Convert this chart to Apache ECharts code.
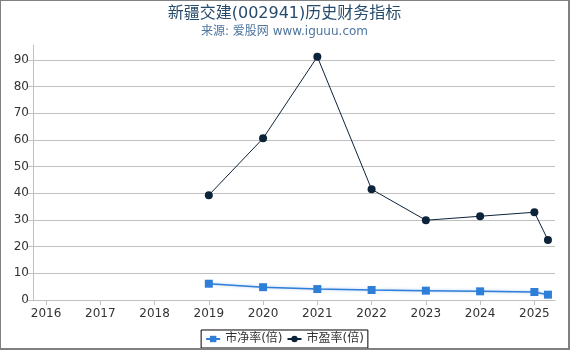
<!DOCTYPE html>
<html>
<head>
<meta charset="utf-8">
<script src="https://cdn.jsdelivr.net/npm/echarts@6/dist/echarts.min.js"></script>
<style>
  html, body { margin: 0; padding: 0; background: #fff; }
  #chart {
    width: 567px;
    height: 347px;
    border-left: 1px solid #808080;
    border-top: 1px solid #808080;
    border-right: 2px solid #808080;
    border-bottom: 2px solid #808080;
  }
</style>
</head>
<body>
<div id="chart"></div>
<script>
// 年份（最后一点为2025年一季度）
var years = [2019, 2020, 2021, 2022, 2023, 2024, 2025, 2025.25];
// 市净率
var pbValues = [6.1, 4.8, 4.1, 3.75, 3.5, 3.25, 3.0, 2.0];
// 市盈率
var peValues = [39.3, 60.6, 91.2, 41.5, 29.9, 31.4, 32.9, 22.5];
var xTicks = [2016, 2017, 2018, 2019, 2020, 2021, 2022, 2023, 2024, 2025];
var yTicks = [0, 10, 20, 30, 40, 50, 60, 70, 80, 90];

var font = 'DejaVu Sans, Noto Sans CJK SC, sans-serif';

function pairs(vals) {
  return years.map(function (y, i) { return [y, vals[i]]; });
}

var chart = echarts.init(document.getElementById('chart'));
chart.setOption({
  animation: false,
  title: {
    text: '新疆交建(002941)历史财务指标',
    subtext: '来源: 爱股网 www.iguuu.com',
    left: 'center',
    top: 0,
    itemGap: 4,
    textStyle: { color: '#274b6d', fontSize: 16, fontWeight: 'normal', fontFamily: font },
    subtextStyle: { color: '#4d759e', fontSize: 12, fontFamily: font }
  },
  legend: {
    bottom: 0,
    left: 'center',
    borderColor: '#000',
    borderWidth: 1,
    borderRadius: 0,
    padding: [3, 4],
    itemGap: 4,
    itemWidth: 14,
    itemHeight: 8,
    textStyle: { color: '#333', fontSize: 12, fontFamily: font },
    data: ['市净率(倍)', '市盈率(倍)']
  },
  grid: { left: 32, right: 13, top: 44, bottom: 48, containLabel: false },
  xAxis: {
    type: 'value',
    min: 2015.76,
    max: 2025.38,
    offset: 3,
    axisLine: { show: true, lineStyle: { color: '#c0c0c0' } },
    axisTick: { show: true, length: 5, lineStyle: { color: '#c0c0c0' }, customValues: xTicks },
    axisLabel: { color: '#333', fontSize: 12, fontFamily: font, margin: 5, customValues: xTicks,
      formatter: function (v) { return String(Math.round(v)); } },
    splitLine: { show: false }
  },
  yAxis: {
    type: 'value',
    min: 0,
    max: 95.6,
    axisLine: { show: true, lineStyle: { color: '#c0c0c0' } },
    axisTick: { show: true, length: 5, lineStyle: { color: '#c0c0c0' }, customValues: yTicks },
    axisLabel: { color: '#333', fontSize: 12, fontFamily: font, margin: 4, customValues: yTicks },
    splitLine: { show: true, showMinLine: false, lineStyle: { color: '#c0c0c0' } }
  },
  series: [
    {
      name: '市净率(倍)',
      type: 'line',
      data: pairs(pbValues),
      symbol: 'rect',
      symbolSize: 8,
      color: '#2f7ed8',
      lineStyle: { width: 1.5, color: '#2f7ed8', shadowColor: 'rgba(47,126,216,0.4)', shadowBlur: 3 },
      itemStyle: { color: '#2f7ed8' }
    },
    {
      name: '市盈率(倍)',
      type: 'line',
      data: pairs(peValues),
      symbol: 'circle',
      symbolSize: 8,
      color: '#0d233a',
      lineStyle: { width: 1, color: '#0d233a' },
      itemStyle: { color: '#0d233a' }
    }
  ]
});
</script>
</body>
</html>
